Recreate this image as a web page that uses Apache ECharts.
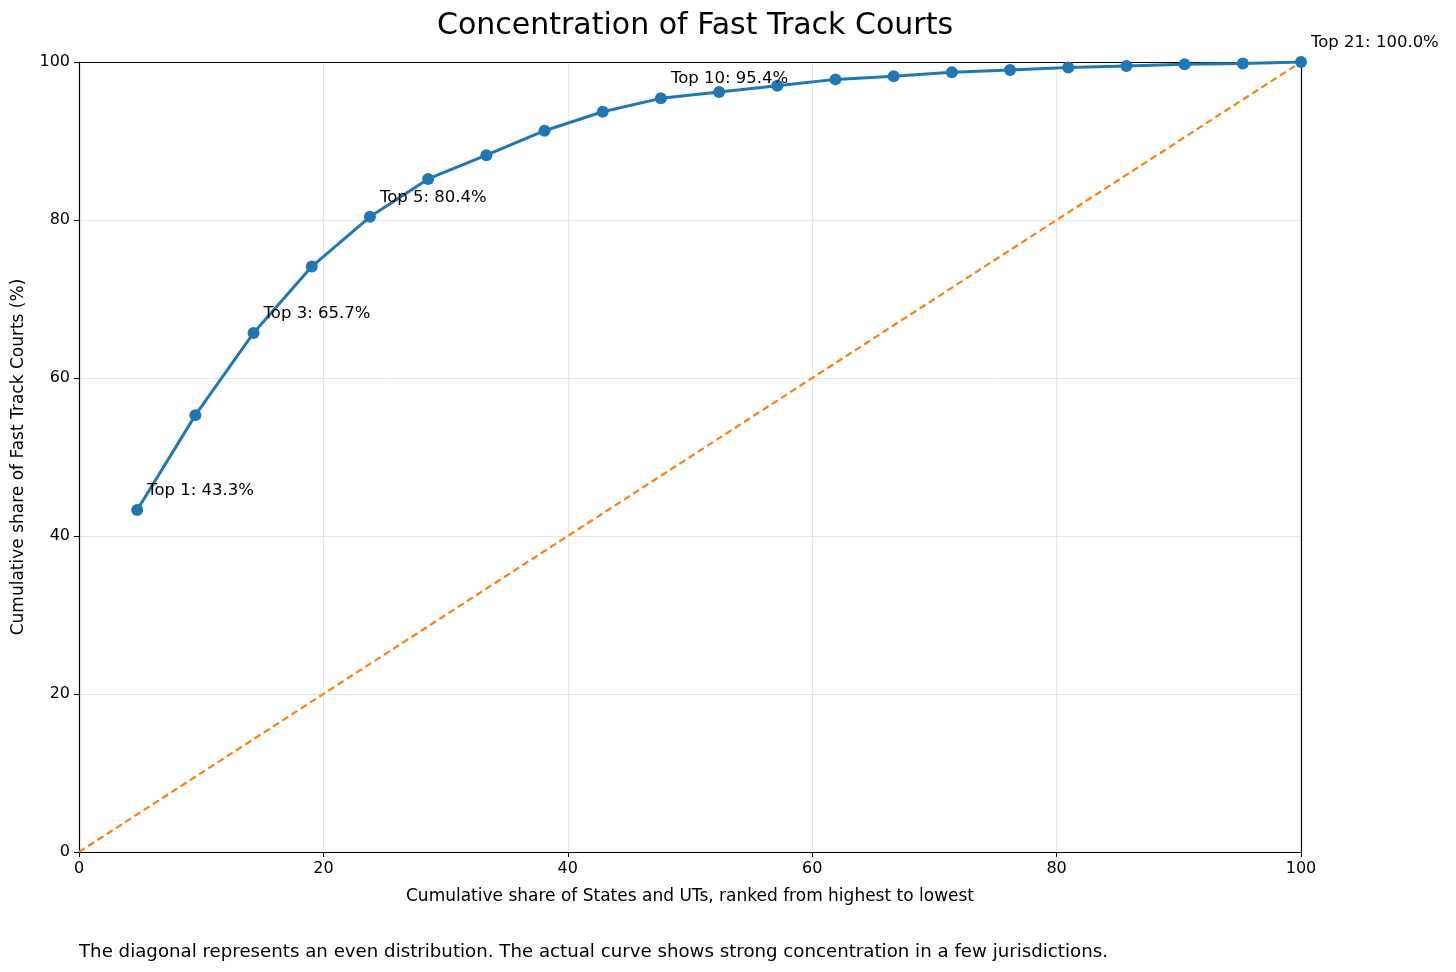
<!DOCTYPE html>
<html>
	<head>
		<meta charset="UTF-8">
		<title>Concentration of Fast Track Courts</title>
		<script type="text/javascript" src="https://cdn.jsdelivr.net/npm/echarts@6/dist/echarts.min.js"></script>
		<style>
			html, body { margin: 0; padding: 0; background: #fff; }
			#main { width: 1456px; height: 972px; }
		</style>
	</head>
	<body>
		<div id="main"></div>
		<script type="text/javascript">
			// cumulative share of courts, states ranked from highest to lowest
			var stateCount = 21;
			var cumShare = [43.3, 55.3, 65.7, 74.1, 80.4, 85.2, 88.2, 91.3, 93.7, 95.4,
				96.2, 97.0, 97.8, 98.2, 98.7, 99.0, 99.3, 99.5, 99.7, 99.8, 100.0];
			var labelled = [1, 3, 5, 10, 21];
			var evenLine = [[0, 0], [100, 100]];

			var font = 'DejaVu Sans';
			var curve = [];
			for (var i = 0; i < cumShare.length; i++) {
				var rank = i + 1;
				var item = { value: [rank / stateCount * 100, cumShare[i]] };
				if (labelled.indexOf(rank) >= 0) {
					item.label = {
						show: true,
						position: 'top',
						align: 'left',
						offset: [10, 0],
						formatter: 'Top ' + rank + ': ' + cumShare[i].toFixed(1) + '%'
					};
				}
				curve.push(item);
			}

			// frame axes for top / right edges
			function frameAxis(pos) {
				return {
					type: 'value', min: 0, max: 100, position: pos,
					axisLine: { show: true, onZero: false, lineStyle: { color: '#000', width: 1.2 } },
					axisTick: { show: false }, axisLabel: { show: false }, splitLine: { show: false }
				};
			}

			var chart = echarts.init(document.getElementById('main'));
			chart.setOption({
				animation: false,
				textStyle: { fontFamily: font, color: '#000' },
				title: [{
					text: 'Concentration of Fast Track Courts',
					left: 690, top: 6, textAlign: 'center',
					textStyle: { fontFamily: font, fontSize: 30, fontWeight: 'normal', color: '#000' }
				}, {
					text: 'The diagonal represents an even distribution. The actual curve shows strong concentration in a few jurisdictions.',
					left: 74, top: 938,
					textStyle: { fontFamily: font, fontSize: 18.2, fontWeight: 'normal', color: '#000' }
				}],
				grid: {
					left: 79, right: 155, top: 62, bottom: 120,
					outerBoundsMode: 'none', containLabel: false
				},
				xAxis: [{
					type: 'value', min: 0, max: 100, interval: 20,
					name: 'Cumulative share of States and UTs, ranked from highest to lowest',
					nameLocation: 'middle', nameGap: 36,
					nameTextStyle: { fontFamily: font, fontSize: 17, color: '#000' },
					axisLine: { show: true, onZero: false, lineStyle: { color: '#000', width: 1.2 } },
					axisTick: { show: true, length: 5, lineStyle: { color: '#000' } },
					axisLabel: { fontSize: 16, color: '#000', margin: 9 },
					splitLine: { show: true, lineStyle: { color: '#e6e6e6', width: 1 } }
				}, frameAxis('top')],
				yAxis: [{
					type: 'value', min: 0, max: 100, interval: 20,
					name: 'Cumulative share of Fast Track Courts (%)',
					nameLocation: 'middle', nameGap: 52,
					nameTextStyle: { fontFamily: font, fontSize: 17, color: '#000' },
					axisLine: { show: true, onZero: false, lineStyle: { color: '#000', width: 1.2 } },
					axisTick: { show: true, length: 5, lineStyle: { color: '#000' } },
					axisLabel: { fontSize: 16, color: '#000', margin: 9 },
					splitLine: { show: true, lineStyle: { color: '#e6e6e6', width: 1 } }
				}, frameAxis('right')],
				series: [{
					name: 'Even distribution',
					type: 'line',
					data: evenLine,
					symbol: 'none',
					lineStyle: { color: '#ff7f0e', width: 2.2, type: [7, 4] },
					z: 2
				}, {
					name: 'Actual',
					type: 'line',
					data: curve,
					symbol: 'circle',
					symbolSize: 12,
					itemStyle: { color: '#1f77b4' },
					lineStyle: { color: '#1f77b4', width: 3 },
					label: { fontFamily: font, fontSize: 16.5, color: '#000' },
					z: 3
				}]
			});
		</script>
	</body>
</html>
